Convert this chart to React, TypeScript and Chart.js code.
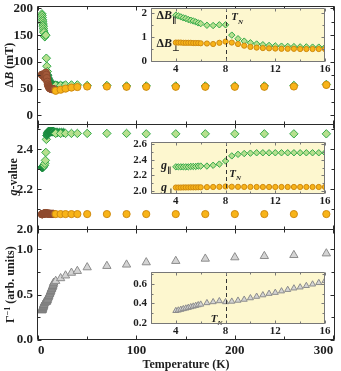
import React, { useEffect, useRef } from 'react';
import { Chart, registerables } from 'chart.js';

Chart.register(...registerables);

// ================= DATA =================
// Low-temperature (inset) temperatures, K
const insetT = [4, 4.2, 4.4, 4.6, 4.8, 5, 5.2, 5.4, 5.6, 5.8, 6, 6.5, 7, 7.5, 8, 8.5, 9, 9.5, 10, 10.5, 11, 11.5, 12, 12.5, 13, 13.5, 14, 14.5, 15, 15.5, 16];
// ΔB parallel / perpendicular in inset units (100 mT)
const insetDBpar = [1.90, 1.87, 1.83, 1.79, 1.76, 1.72, 1.69, 1.66, 1.62, 1.58, 1.55, 1.48, 1.47, 1.50, 1.50, 1.07, 0.92, 0.82, 0.75, 0.70, 0.67, 0.64, 0.62, 0.61, 0.60, 0.59, 0.58, 0.58, 0.57, 0.57, 0.56];
const insetDBperp = [0.76, 0.76, 0.76, 0.75, 0.75, 0.75, 0.75, 0.74, 0.74, 0.74, 0.73, 0.72, 0.70, 0.75, 0.80, 0.76, 0.70, 0.63, 0.58, 0.55, 0.53, 0.52, 0.51, 0.50, 0.50, 0.50, 0.49, 0.49, 0.49, 0.49, 0.49];
const insetGpar = [2.31, 2.31, 2.31, 2.31, 2.31, 2.31, 2.315, 2.315, 2.315, 2.32, 2.32, 2.32, 2.33, 2.345, 2.385, 2.45, 2.47, 2.48, 2.485, 2.49, 2.49, 2.49, 2.49, 2.49, 2.49, 2.49, 2.49, 2.49, 2.49, 2.49, 2.49];
const insetGperp = [2.045, 2.045, 2.045, 2.046, 2.046, 2.046, 2.047, 2.047, 2.047, 2.048, 2.048, 2.05, 2.052, 2.054, 2.058, 2.055, 2.054, 2.053, 2.053, 2.052, 2.052, 2.052, 2.052, 2.052, 2.052, 2.052, 2.052, 2.052, 2.052, 2.052, 2.052];
const insetGamma = [0.325, 0.33, 0.337, 0.344, 0.35, 0.357, 0.364, 0.37, 0.377, 0.384, 0.39, 0.405, 0.415, 0.425, 0.415, 0.42, 0.43, 0.44, 0.455, 0.47, 0.485, 0.5, 0.51, 0.525, 0.54, 0.555, 0.565, 0.58, 0.595, 0.61, 0.63];

// Main panel: low-T g-perp (main scale)
const mainGperpLow = [2.075, 2.075, 2.076, 2.076, 2.076, 2.077, 2.077, 2.077, 2.078, 2.078, 2.078, 2.079, 2.079, 2.08, 2.081, 2.08, 2.079, 2.079, 2.078, 2.078, 2.078, 2.078, 2.078, 2.077, 2.077, 2.077, 2.077, 2.077, 2.077, 2.077, 2.077];
// Main panel: extra dense parallel points above 16 K
const extraT = [17, 18, 19, 20, 22, 24, 26];
const extraDBpar = [56, 56, 55.5, 55.5, 55, 55, 55];
const extraGpar = [2.485, 2.485, 2.485, 2.485, 2.485, 2.485, 2.485];

// Main panel: higher temperatures
const hiT = [18, 23, 28, 34, 40, 50, 70, 90, 110, 140, 170, 200, 230, 260, 293];
const hiDBperp = [46, 48, 50, 52, 53, 54, 54, 53.5, 53.5, 53.5, 53.5, 53.5, 53.5, 54, 57];
const hiDBpar = [56, 56, 57, 57, 57, 56, 56, 55, 55, 55, 55, 55, 55, 56, 58];
const hiGpar = [2.48, 2.48, 2.48, 2.48, 2.48, 2.48, 2.48, 2.48, 2.478, 2.478, 2.478, 2.478, 2.478, 2.478, 2.478];
const hiGperp = [2.076, 2.076, 2.076, 2.076, 2.076, 2.076, 2.076, 2.076, 2.076, 2.076, 2.076, 2.076, 2.076, 2.076, 2.076];
const hiGamma = [0.65, 0.68, 0.71, 0.74, 0.76, 0.80, 0.815, 0.83, 0.855, 0.87, 0.895, 0.91, 0.924, 0.935, 0.953];

const TN = 8;

// ================= STYLE =================
const SERIF = "'Liberation Serif', 'DejaVu Serif', serif";
const TEXT = '#1e1e1e';
const GREEN = '#b6e08e';
const GREEN_EDGE = '#33a94a';
const GREEN_DARK = '#24994a';
const GREEN_DARK_EDGE = '#1a8a3e';
const ORANGE = '#f8b418';
const ORANGE_EDGE = '#cf8a10';
const BROWN = '#a2593a';
const BROWN_EDGE = '#8e4a2e';
const GRAY = '#d4d4d4';
const GRAY_EDGE = '#8c8c8c';
const GRAY_DARK = '#9e9e9e';
const GRAY_DARK_EDGE = '#7e7e7e';
const INSET_BG = '#fdf7cf';

const W = 341;
const H = 371;
const YW = 26, PT = 6, PR = 8, XH = 14; // inset canvas margins
const INSETS = [
  { left: 151, top: 8, w: 174, h: 54 },
  { left: 151, top: 142, w: 174, h: 52 },
  { left: 151, top: 272, w: 174, h: 52 },
];

type Part = { t: string; it?: boolean; sub?: boolean; sup?: boolean };

function partFont(p: Part, size: number) {
  const s = p.sub || p.sup ? Math.round(size * 0.68) : size;
  return `${p.it ? 'italic ' : ''}bold ${s}px ${SERIF}`;
}

function drawRich(ctx: CanvasRenderingContext2D, parts: Part[], x: number, y: number, size: number, align: string) {
  let total = 0;
  for (const p of parts) {
    ctx.font = partFont(p, size);
    total += ctx.measureText(p.t).width;
  }
  let cx = align === 'center' ? x - total / 2 : align === 'right' ? x - total : x;
  ctx.textAlign = 'left';
  ctx.textBaseline = 'alphabetic';
  for (const p of parts) {
    ctx.font = partFont(p, size);
    const dy = p.sub ? size * 0.3 : p.sup ? -size * 0.38 : 0;
    ctx.fillText(p.t, cx, y + dy);
    cx += ctx.measureText(p.t).width;
  }
}

const pts = (xs: number[], ys: number[]) => xs.map((x, i) => ({ x, y: ys[i] }));
const inRanges = (ranges: number[][]) => (t: number) => ranges.some(([a, b]) => t >= a && t <= b);
const isMult = (v: number, m: number) => Math.abs(v / m - Math.round(v / m)) < 1e-6;
const tOf = (c: any) => (c && c.raw ? c.raw.x : -1);

function fixAxis(size: number, horizontal: boolean) {
  return (s: any) => {
    if (horizontal) s.height = size;
    else s.width = size;
    s.paddingTop = 0;
    s.paddingBottom = 0;
    s.paddingLeft = 0;
    s.paddingRight = 0;
  };
}

const framePlugin = {
  id: 'frame',
  afterDatasetsDraw(chart: any, _a: any, o: any) {
    const { ctx, chartArea: ca } = chart;
    const xs = chart.scales.x;
    ctx.save();
    ctx.strokeStyle = o.color;
    ctx.lineWidth = 1;
    const L = Math.round(ca.left) + 0.5;
    const R = Math.round(ca.right) - 0.5;
    for (const id of o.yIds) {
      const ys = chart.scales[id];
      const T = Math.round(ys.top) + 0.5;
      const B = Math.min(Math.round(ys.bottom) + 0.5, Math.round(ca.bottom) - 0.5);
      ctx.beginPath();
      ctx.rect(L, T, R - L, B - T);
      for (const t of ys.ticks) {
        const p = Math.round(ys.getPixelForValue(t.value)) + 0.5;
        const len = t.label !== '' ? o.major : o.minor;
        ctx.moveTo(L, p); ctx.lineTo(L + len, p);
        ctx.moveTo(R, p); ctx.lineTo(R - len, p);
      }
      for (const t of xs.ticks) {
        const p = Math.round(xs.getPixelForValue(t.value)) + 0.5;
        const len = t.label !== '' ? o.major : o.minor;
        ctx.moveTo(p, T); ctx.lineTo(p, T + len);
        ctx.moveTo(p, B); ctx.lineTo(p, B - len);
      }
      ctx.stroke();
    }
    ctx.restore();
  },
};

const yTitlePlugin = {
  id: 'ytitles',
  afterDraw(chart: any, _a: any, o: any) {
    const ctx = chart.ctx;
    for (const it of o.items) {
      const ys = chart.scales[it.id];
      const cy = (ys.top + ys.bottom) / 2;
      ctx.save();
      ctx.fillStyle = TEXT;
      ctx.translate(it.x, cy);
      ctx.rotate(-Math.PI / 2);
      drawRich(ctx, it.parts, 0, o.size * 0.35, o.size, 'center');
      ctx.restore();
    }
  },
};

const decorPlugin = {
  id: 'decor',
  beforeDatasetsDraw(chart: any, _a: any, o: any) {
    const { ctx, chartArea: ca } = chart;
    ctx.save();
    ctx.fillStyle = o.bg;
    ctx.fillRect(ca.left, ca.top, ca.right - ca.left, ca.bottom - ca.top);
    ctx.restore();
  },
  afterDatasetsDraw(chart: any, _a: any, o: any) {
    const { ctx, chartArea: ca } = chart;
    const xs = chart.scales.x;
    const ys = chart.scales.y;
    ctx.save();
    const px = Math.round(xs.getPixelForValue(o.tn)) + 0.5;
    ctx.strokeStyle = '#333';
    ctx.lineWidth = 1;
    ctx.setLineDash([4, 3]);
    ctx.beginPath();
    ctx.moveTo(px, ca.top);
    ctx.lineTo(px, ca.bottom);
    ctx.stroke();
    ctx.setLineDash([]);
    ctx.fillStyle = TEXT;
    for (const lb of o.labels) {
      const x = xs.getPixelForValue(lb.x);
      const y = ys.getPixelForValue(lb.y);
      drawRich(ctx, lb.parts, x, y + lb.size * 0.35, lb.size, lb.align || 'left');
    }
    ctx.restore();
  },
};

const sc = (o: any) => ({ type: 'scatter', showLine: false, pointBorderWidth: 1, ...o });

function makeMain(canvas: HTMLCanvasElement) {
  const dark1 = inRanges([[9.75, 30]]);
  const dark2 = inRanges([[0, 6.2], [8.75, 30]]);
  const mainTpar = insetT.concat(extraT);
  const mainDBpar = insetDBpar.map((v) => v * 100).concat(extraDBpar);
  const mainDBperp = insetDBperp.map((v) => v * 100);
  const mainGpar = insetGpar.concat(extraGpar);
  const tickFont = { family: SERIF, size: 13, weight: 'bold' as const };
  const rC = 3.6, rD = 4.2, rT = 4.8;
  const yBase = (o: any) => ({
    type: 'linear',
    position: 'left',
    stack: 'panels',
    grid: { display: false, drawTicks: false },
    border: { display: false },
    afterFit: fixAxis(37, false),
    ...o,
    ticks: { includeBounds: false, font: tickFont, color: TEXT, padding: 4, autoSkip: false, ...o.ticks },
  });
  return new Chart(canvas, {
    type: 'scatter',
    data: {
      datasets: [
        sc({ data: pts(hiT, hiDBperp), yAxisID: 'y1', pointStyle: 'circle', pointRadius: rC, pointBackgroundColor: ORANGE, pointBorderColor: ORANGE_EDGE }),
        sc({ data: pts(insetT, mainDBperp), yAxisID: 'y1', pointStyle: 'circle', pointRadius: rC, pointBackgroundColor: BROWN, pointBorderColor: BROWN_EDGE }),
        sc({ data: pts(hiT, hiDBpar), yAxisID: 'y1', pointStyle: 'rectRot', pointRadius: rD, pointBackgroundColor: GREEN, pointBorderColor: GREEN_EDGE }),
        sc({
          data: pts(mainTpar, mainDBpar), yAxisID: 'y1', pointStyle: 'rectRot', pointRadius: rD,
          pointBackgroundColor: (c: any) => (dark1(tOf(c)) ? GREEN_DARK : GREEN),
          pointBorderColor: (c: any) => (dark1(tOf(c)) ? GREEN_DARK_EDGE : GREEN_EDGE),
        }),
        sc({ data: pts(hiT, hiGperp), yAxisID: 'y2', pointStyle: 'circle', pointRadius: rC, pointBackgroundColor: ORANGE, pointBorderColor: ORANGE_EDGE }),
        sc({ data: pts(insetT, mainGperpLow), yAxisID: 'y2', pointStyle: 'circle', pointRadius: rC, pointBackgroundColor: BROWN, pointBorderColor: BROWN_EDGE }),
        sc({ data: pts(hiT, hiGpar), yAxisID: 'y2', pointStyle: 'rectRot', pointRadius: rD, pointBackgroundColor: GREEN, pointBorderColor: GREEN_EDGE }),
        sc({
          data: pts(mainTpar, mainGpar), yAxisID: 'y2', pointStyle: 'rectRot', pointRadius: rD,
          pointBackgroundColor: (c: any) => (dark2(tOf(c)) ? GREEN_DARK : GREEN),
          pointBorderColor: (c: any) => (dark2(tOf(c)) ? GREEN_DARK_EDGE : GREEN_EDGE),
        }),
        sc({ data: pts(hiT, hiGamma), yAxisID: 'y3', pointStyle: 'triangle', pointRadius: rT, pointBackgroundColor: GRAY, pointBorderColor: GRAY_EDGE }),
        sc({ data: pts(insetT, insetGamma), yAxisID: 'y3', pointStyle: 'triangle', pointRadius: rT, pointBackgroundColor: GRAY_DARK, pointBorderColor: GRAY_DARK_EDGE }),
      ],
    } as any,
    options: {
      responsive: false,
      animation: false,
      events: [],
      layout: { padding: { top: 2, right: 0, bottom: 0, left: 0 } },
      plugins: {
        legend: { display: false },
        tooltip: { enabled: false },
        frame: { yIds: ['y1', 'y2', 'y3'], color: '#2a2a2a', major: 4, minor: 3 },
        ytitles: {
          size: 12,
          items: [
            { id: 'y1', x: 9, parts: [{ t: 'Δ' }, { t: 'B', it: true }, { t: ' (mT)' }] },
            { id: 'y2', x: 13, parts: [{ t: 'g', it: true }, { t: '-value' }] },
            { id: 'y3', x: 10, parts: [{ t: 'Γ' }, { t: '−1', sup: true }, { t: ' (arb. units)' }] },
          ],
        },
      } as any,
      scales: {
        x: {
          type: 'linear',
          position: 'bottom',
          min: -1,
          max: 302,
          grid: { display: false, drawTicks: false },
          border: { display: false },
          ticks: {
            stepSize: 50, includeBounds: false, autoSkip: false, maxRotation: 0, padding: 3, align: 'inner',
            font: tickFont, color: TEXT,
            callback: (v: any) => (isMult(v, 100) ? String(v) : ''),
          },
          title: {
            display: true, text: 'Temperature (K)', color: TEXT, padding: 0,
            font: { family: SERIF, size: 12, weight: 'bold', lineHeight: 1 },
          },
          afterFit: fixAxis(31, true),
        },
        y1: yBase({ weight: 3, stackWeight: 120, min: -17, max: 205, ticks: { stepSize: 25, callback: (v: any) => (isMult(v, 50) ? String(v) : '') } }),
        y2: yBase({ weight: 2, stackWeight: 106, min: 2.0, max: 2.525, ticks: { stepSize: 0.1, callback: (v: any) => (isMult(v, 0.2) ? Number(v).toFixed(1) : '') } }),
        y3: yBase({ weight: 1, stackWeight: 112, min: 0, max: 1.22, ticks: { stepSize: 0.25, callback: (v: any) => (isMult(v, 0.5) ? Number(v).toFixed(1) : '') } }),
      } as any,
    },
    plugins: [framePlugin, yTitlePlugin],
  } as any);
}

function makeInset(canvas: HTMLCanvasElement, cfg: any) {
  const tickFont = { family: SERIF, size: 11, weight: 'bold' as const };
  return new Chart(canvas, {
    type: 'scatter',
    data: { datasets: cfg.datasets },
    options: {
      responsive: false,
      animation: false,
      events: [],
      layout: { padding: { top: PT, right: PR, left: 0, bottom: 0 } },
      plugins: {
        legend: { display: false },
        tooltip: { enabled: false },
        frame: { yIds: ['y'], color: '#777', major: 3, minor: 2 },
        decor: { bg: INSET_BG, tn: TN, labels: cfg.labels },
      } as any,
      scales: {
        x: {
          type: 'linear', min: 2, max: 16,
          grid: { display: false, drawTicks: false },
          border: { display: false },
          ticks: {
            stepSize: 2, includeBounds: false, autoSkip: false, maxRotation: 0, padding: 1,
            font: tickFont, color: TEXT,
            callback: (v: any) => (isMult(v, 4) ? String(v) : ''),
          },
          afterFit: fixAxis(XH, true),
        },
        y: {
          type: 'linear', min: cfg.ymin, max: cfg.ymax,
          grid: { display: false, drawTicks: false },
          border: { display: false },
          ticks: {
            stepSize: cfg.ystep, includeBounds: false, autoSkip: false, padding: 4,
            font: tickFont, color: TEXT,
            callback: (v: any) => (isMult(v, cfg.ylabelStep) ? Number(v).toFixed(cfg.ydec) : ''),
          },
          afterFit: fixAxis(YW, false),
        },
      } as any,
    },
    plugins: [decorPlugin, framePlugin],
  } as any);
}

export default function App() {
  const mainRef = useRef<HTMLCanvasElement>(null);
  const i1 = useRef<HTMLCanvasElement>(null);
  const i2 = useRef<HTMLCanvasElement>(null);
  const i3 = useRef<HTMLCanvasElement>(null);

  useEffect(() => {
    const charts: Chart[] = [];
    charts.push(makeMain(mainRef.current!));
    charts.push(makeInset(i1.current!, {
      ymin: -0.05, ymax: 2.2, ystep: 0.5, ylabelStep: 1, ydec: 0,
      datasets: [
        sc({ data: pts(insetT, insetDBperp), pointStyle: 'circle', pointRadius: 2.6, pointBackgroundColor: ORANGE, pointBorderColor: ORANGE_EDGE }),
        sc({ data: pts(insetT, insetDBpar), pointStyle: 'rectRot', pointRadius: 3.2, pointBackgroundColor: GREEN, pointBorderColor: GREEN_EDGE }),
      ],
      labels: [
        { x: 2.45, y: 1.9, size: 12, parts: [{ t: 'Δ' }, { t: 'B', it: true }, { t: '∥', sub: true }] },
        { x: 2.45, y: 0.75, size: 12, parts: [{ t: 'Δ' }, { t: 'B', it: true }, { t: '⊥', sub: true }] },
        { x: 8.45, y: 1.84, size: 11, parts: [{ t: 'T', it: true }, { t: 'N', it: true, sub: true }] },
      ],
    }));
    charts.push(makeInset(i2.current!, {
      ymin: 1.962, ymax: 2.628, ystep: 0.1, ylabelStep: 0.2, ydec: 1,
      datasets: [
        sc({ data: pts(insetT, insetGperp), pointStyle: 'circle', pointRadius: 2.6, pointBackgroundColor: ORANGE, pointBorderColor: ORANGE_EDGE }),
        sc({ data: pts(insetT, insetGpar), pointStyle: 'rectRot', pointRadius: 3.2, pointBackgroundColor: GREEN, pointBorderColor: GREEN_EDGE }),
      ],
      labels: [
        { x: 2.8, y: 2.33, size: 12, parts: [{ t: 'g', it: true }, { t: '∥', sub: true }] },
        { x: 2.8, y: 2.06, size: 12, parts: [{ t: 'g', it: true }, { t: '⊥', sub: true }] },
        { x: 8.3, y: 2.23, size: 11, parts: [{ t: 'T', it: true }, { t: 'N', it: true, sub: true }] },
      ],
    }));
    charts.push(makeInset(i3.current!, {
      ymin: 0.19, ymax: 0.72, ystep: 0.1, ylabelStep: 0.2, ydec: 1,
      datasets: [
        sc({ data: pts(insetT, insetGamma), pointStyle: 'triangle', pointRadius: 3.5, pointBackgroundColor: GRAY, pointBorderColor: GRAY_EDGE }),
      ],
      labels: [
        { x: 7.75, y: 0.25, size: 11, align: 'right', parts: [{ t: 'T', it: true }, { t: 'N', it: true, sub: true }] },
      ],
    }));
    return () => charts.forEach((c) => c.destroy());
  }, []);

  const insetStyle = (r: { left: number; top: number; w: number; h: number }) => ({
    position: 'absolute' as const,
    left: r.left - YW,
    top: r.top - PT,
    width: YW + r.w + PR,
    height: PT + r.h + XH,
  });

  return (
    <div style={{ position: 'fixed', left: 0, top: 0, width: W, height: H, background: '#fff', overflow: 'hidden' }}>
      <canvas ref={mainRef} width={W} height={H} style={{ position: 'absolute', left: 0, top: 0, width: W, height: H }} />
      {[i1, i2, i3].map((ref, k) => (
        <canvas
          key={k}
          ref={ref}
          width={YW + INSETS[k].w + PR}
          height={PT + INSETS[k].h + XH}
          style={insetStyle(INSETS[k])}
        />
      ))}
    </div>
  );
}
